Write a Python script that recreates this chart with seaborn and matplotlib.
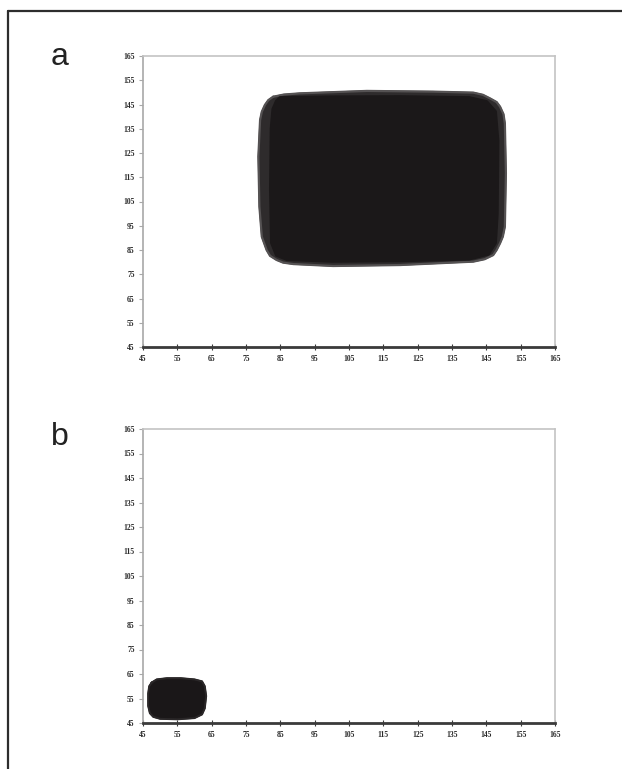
import matplotlib
matplotlib.use("Agg")
import matplotlib.pyplot as plt
import seaborn as sns
from matplotlib.lines import Line2D

# ---- data ----
ticks = [45, 55, 65, 75, 85, 95, 105, 115, 125, 135, 145, 155, 165]
panel_labels = ["a", "b"]

# panel a: outer trace of the scribble region
a_outer_x = [82.9, 86.0, 90.7, 110.2, 129.6, 141.2, 144.0, 146.1, 148.0, 149.0, 150.0, 150.4, 150.7,
             150.4, 149.8, 149.0, 148.0, 147.0, 144.5, 141.2, 119.9, 100.4, 88.8, 85.8, 83.9, 82.0,
             81.0, 79.6, 78.9, 78.6, 79.1, 79.6, 80.5, 81.5]
a_outer_y = [148.2, 149.1, 149.6, 150.6, 150.3, 149.9, 149.0, 147.5, 146.0, 144.1, 141.0, 137.2, 116.6,
             94.6, 90.5, 87.8, 85.0, 82.9, 81.2, 80.2, 78.8, 78.4, 79.2, 79.8, 80.9, 82.6,
             85.0, 90.5, 102.9, 123.5, 138.6, 142.0, 144.8, 146.8]
# panel a: dense core of the scribble
a_core_x = [85, 100, 120, 140, 145, 147.5, 148.2, 148.0, 147.5, 145.5, 140, 120, 100, 87,
            84, 82.6, 82.3, 82.5, 83, 84]
a_core_y = [147.6, 147.9, 148.0, 147.6, 146, 142, 130, 100, 88, 83.5, 81.5, 80.8, 80.6, 81.3,
            83, 88, 110, 135, 143, 146.3]
# panel b: scribble region
b_outer_x = [47.5, 49, 52, 56, 60, 62.2, 63.0, 63.4, 63.0, 62.2, 60, 55, 50, 48, 47, 46.5, 46.5, 46.8]
b_outer_y = [61.5, 62.8, 63.3, 63.3, 62.8, 62.0, 60, 56, 51, 48.5, 47.0, 46.5, 46.7, 47.5, 49, 52, 57, 60]

sns.set_theme(style="white")
plt.rcParams["font.family"] = ["Liberation Serif", "DejaVu Serif"]

W, H = 622, 769
fig = plt.figure(figsize=(W / 100, H / 100), dpi=100)


def make_axes(top_px, bottom_px):
    left, right = 143, 555
    return fig.add_axes([left / W, 1 - bottom_px / H, (right - left) / W, (bottom_px - top_px) / H])


ax_a = make_axes(56, 347)
ax_b = make_axes(429, 723)

for ax in (ax_a, ax_b):
    ax.set_xlim(45, 165)
    ax.set_ylim(45, 165)
    ax.set_xticks(ticks)
    ax.set_yticks(ticks)
    ax.set_xticklabels([str(t) for t in ticks])
    ax.set_yticklabels([str(t) for t in ticks])
    for lab in ax.get_xticklabels() + ax.get_yticklabels():
        lab.set_fontsize(5.5)
        lab.set_fontweight("bold")
        lab.set_color("#2a2a2a")
    ax.spines["top"].set_color("#c4c4c4")
    ax.spines["right"].set_color("#c4c4c4")
    ax.spines["left"].set_color("#a8a8a8")
    ax.spines["bottom"].set_color("#3a3a3a")
    for s in ("top", "right", "left"):
        ax.spines[s].set_linewidth(1.2)
    ax.spines["bottom"].set_linewidth(2.0)
    ax.tick_params(axis="y", direction="out", length=3, width=0.8, color="#a8a8a8", pad=3, left=True)
    ax.tick_params(axis="x", direction="inout", length=4, width=0.8, color="#3a3a3a", pad=4, bottom=True)
    ax.set_xlabel("")
    ax.set_ylabel("")
    ax.set_facecolor("white")

# panel a scribble
ax_a.fill(a_outer_x, a_outer_y, color="#2e2b2c", zorder=2)
sns.lineplot(x=a_outer_x + a_outer_x[:1], y=a_outer_y + a_outer_y[:1], sort=False, estimator=None,
             color="#555253", linewidth=1.6, ax=ax_a, zorder=3, solid_joinstyle="round")
ax_a.fill(a_core_x, a_core_y, color="#1b1819", zorder=4, linewidth=3, edgecolor="#1b1819", joinstyle="round")

# panel b scribble
ax_b.fill(b_outer_x, b_outer_y, color="#1a1718", zorder=2)
sns.lineplot(x=b_outer_x + b_outer_x[:1], y=b_outer_y + b_outer_y[:1], sort=False, estimator=None,
             color="#2a2728", linewidth=1.4, ax=ax_b, zorder=3, solid_joinstyle="round")

# panel letters
fig.text(51 / W, 1 - 65 / H, panel_labels[0], fontsize=23, family="Liberation Sans", color="#222222", va="baseline")
fig.text(51 / W, 1 - 445 / H, panel_labels[1], fontsize=23, family="Liberation Sans", color="#222222", va="baseline")

# outer frame
fig.add_artist(Line2D([8 / W, 8 / W], [0, 1 - 11 / H], transform=fig.transFigure, color="#2d2d2d", linewidth=1.6))
fig.add_artist(Line2D([8 / W, 1], [1 - 11 / H, 1 - 11 / H], transform=fig.transFigure, color="#2d2d2d", linewidth=1.6))

fig.savefig("out.png", dpi=100, facecolor="white")
